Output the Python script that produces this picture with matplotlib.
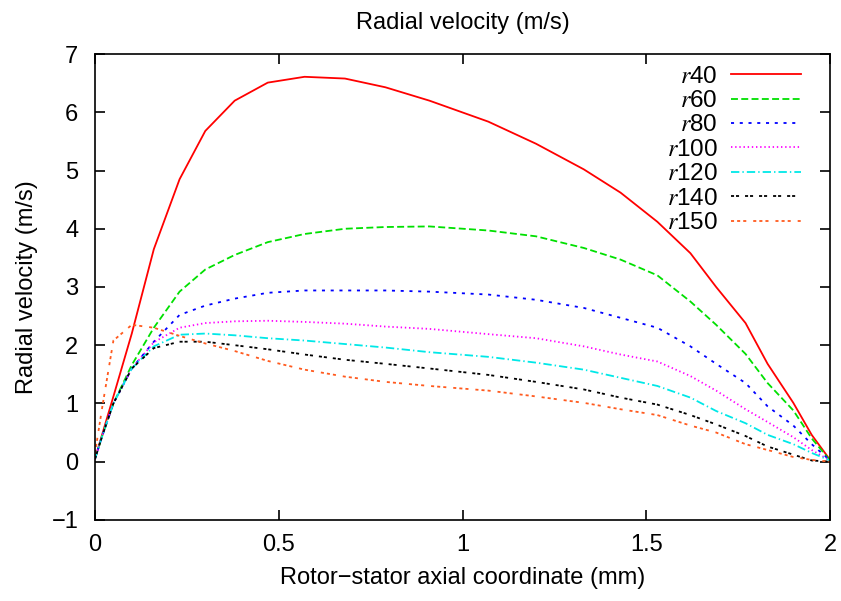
import matplotlib
matplotlib.use("Agg")
import matplotlib.pyplot as plt

plt.rcParams['font.family'] = ['Liberation Sans', 'DejaVu Sans']
plt.rcParams['mathtext.fontset'] = 'stix'
plt.rcParams['lines.scale_dashes'] = False

# axial coordinate (mm)
z = [0, 0.02, 0.05, 0.1, 0.16, 0.23, 0.3, 0.38, 0.47, 0.57, 0.68, 0.79, 0.91,
     1.07, 1.2, 1.33, 1.43, 1.53, 1.62, 1.69, 1.77, 1.83, 1.9, 1.95, 2.0]

# radial velocity (m/s) at each radius
r40 = [0.05, 0.48, 1.12, 2.2, 3.65, 4.85, 5.68, 6.2, 6.51, 6.61, 6.58, 6.43, 6.2,
       5.84, 5.46, 5.02, 4.62, 4.12, 3.58, 3.0, 2.38, 1.68, 1.01, 0.46, 0.03]
r60 = [0.05, 0.45, 1.0, 1.66, 2.3, 2.92, 3.3, 3.55, 3.77, 3.91, 4.0, 4.03, 4.04,
       3.97, 3.87, 3.67, 3.47, 3.2, 2.75, 2.35, 1.85, 1.35, 0.88, 0.4, 0.02]
r80 = [0.05, 0.45, 1.0, 1.6, 2.06, 2.52, 2.68, 2.8, 2.9, 2.94, 2.94, 2.94, 2.92,
       2.87, 2.78, 2.64, 2.47, 2.3, 1.98, 1.68, 1.35, 0.95, 0.62, 0.3, 0.02]
r100 = [0.05, 0.45, 1.0, 1.6, 2.05, 2.3, 2.38, 2.41, 2.42, 2.4, 2.37, 2.32, 2.28,
        2.19, 2.12, 1.98, 1.84, 1.72, 1.47, 1.22, 0.9, 0.68, 0.42, 0.2, 0.02]
r120 = [0.05, 0.45, 1.0, 1.6, 1.98, 2.18, 2.2, 2.17, 2.12, 2.08, 2.02, 1.96, 1.88,
        1.8, 1.7, 1.58, 1.44, 1.3, 1.1, 0.87, 0.66, 0.46, 0.3, 0.15, 0.02]
r140 = [0.05, 0.45, 1.0, 1.6, 1.95, 2.06, 2.06, 2.0, 1.93, 1.84, 1.75, 1.68, 1.6,
        1.49, 1.37, 1.24, 1.1, 0.98, 0.8, 0.64, 0.44, 0.26, 0.12, 0.02, 0.0]
r150 = [0.15, 0.95, 2.08, 2.35, 2.3, 2.16, 2.03, 1.9, 1.73, 1.58, 1.46, 1.37, 1.3,
        1.22, 1.12, 1.01, 0.9, 0.8, 0.62, 0.5, 0.3, 0.2, 0.08, 0.03, 0.0]

series = [("40", r40, '#ff0000', None),
          ("60", r60, '#00e000', (5, 2.4)),
          ("80", r80, '#0000ff', (2.2, 4.1)),
          ("100", r100, '#ff00ff', (1, 2)),
          ("120", r120, '#00e8e8', (6, 2.2, 1, 2.2)),
          ("140", r140, '#000000', (2.2, 1.4, 2.2, 4.3)),
          ("150", r150, '#ff5a1e', (2.2, 2.2, 2.2, 2.2, 2.2, 5))]

fig = plt.figure(figsize=(8.41, 6.01), dpi=100)
ax = fig.add_axes([0.113, 0.135, 0.874, 0.775])

for name, vals, col, dash in series:
    line, = ax.plot(z, vals, color=col, lw=1.3, label=r'$r$' + name)
    if dash is not None:
        line.set_dashes(dash)

ax.set_xlim(0, 2)
ax.set_ylim(-1, 7)
ax.set_xticks([0, 0.5, 1, 1.5, 2])
ax.set_xticklabels(["0", "0.5", "1", "1.5", "2"])
ax.set_yticks(range(-1, 8))
ax.tick_params(direction='in', length=7, width=1.2, labelsize=17,
               top=True, right=True)
ax.tick_params(axis='x', pad=10)
ax.tick_params(axis='y', pad=12)
for s in ax.spines.values():
    s.set_linewidth(1.2)

ax.set_title("Radial velocity (m/s)", fontsize=17, pad=18)
ax.set_xlabel("Rotor\u2212stator axial coordinate (mm)", fontsize=17, labelpad=8)
ax.set_ylabel("Radial velocity (m/s)", fontsize=17, labelpad=10)

leg = ax.legend(loc='upper right', bbox_to_anchor=(0.971, 0.991),
                frameon=False, markerfirst=False, fontsize=17.5,
                handlelength=2.9, handletextpad=0.55, labelspacing=0.1,
                borderaxespad=0, borderpad=0.3)

fig.savefig("out.png", dpi=100)
